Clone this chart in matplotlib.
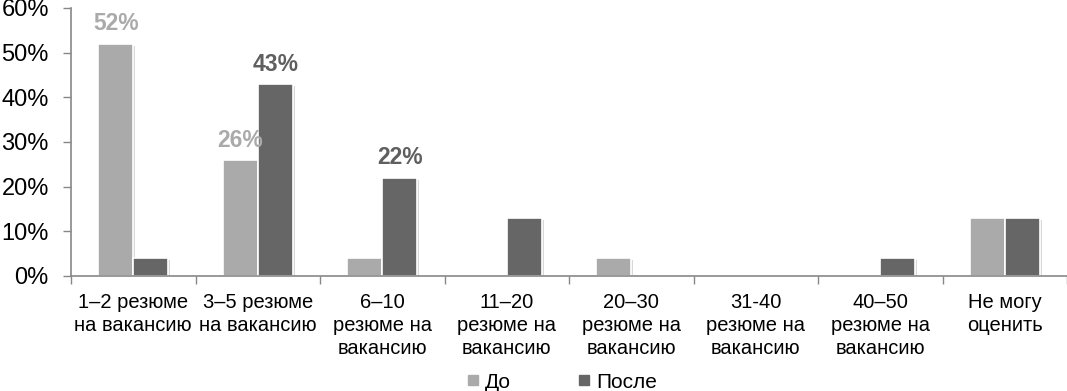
import matplotlib.pyplot as plt
import matplotlib.patheffects as pe
from matplotlib.lines import Line2D
import numpy as np

plt.rcParams['font.family'] = ['Liberation Sans', 'DejaVu Sans']

categories = ["1–2 резюме\nна вакансию", "3–5 резюме\nна вакансию", "6–10\nрезюме на\nвакансию",
              "11–20\nрезюме на\nвакансию", "20–30\nрезюме на\nвакансию", "31-40\nрезюме на\nвакансию",
              "40–50\nрезюме на\nвакансию", "Не могу\nоценить"]
do_vals = [52, 26, 4, 0, 4, 0, 0, 13]
posle_vals = [4, 43, 22, 13, 0, 0, 4, 13]
do_labels = ["52%", "26%", "", "", "", "", "", ""]
posle_labels = ["", "43%", "22%", "", "", "", "", ""]

c_do = "#aaaaaa"
c_posle = "#666666"
grey = "#888888"

fig = plt.figure(figsize=(10.67, 3.91), dpi=100)
ax = fig.add_axes([71/1067, 115/391, 1 - 71/1067, 268/391])

x = np.arange(len(categories))
w = 0.28
shadow = [pe.SimplePatchShadow(offset=(1.5, -1.5), shadow_rgbFace="#d8d8d8", alpha=1), pe.Normal()]
b1 = ax.bar(x - w/2, do_vals, w, color=c_do, edgecolor="white", linewidth=1.2, path_effects=shadow)
b2 = ax.bar(x + w/2, posle_vals, w, color=c_posle, edgecolor="white", linewidth=1.2, path_effects=shadow)

ax.bar_label(b1, labels=do_labels, padding=6, color=c_do, fontsize=16.5, fontweight="bold")
ax.bar_label(b2, labels=posle_labels, padding=6, color="#5f5f5f", fontsize=16.5, fontweight="bold")

ax.set_xlim(-0.5, len(categories) - 0.5)
ax.set_ylim(0, 60)
ax.set_yticks(range(0, 61, 10))
ax.set_yticklabels([f"{v}%" for v in range(0, 61, 10)], fontsize=17)
ax.tick_params(axis="y", length=6, color=grey, width=1, pad=10)

ax.set_xticks(x)
ax.set_xticklabels(categories, fontsize=14.5, linespacing=1.28)
ax.set_xticks(np.arange(-0.5, len(categories)), minor=True)
ax.tick_params(axis="x", which="major", length=0, pad=12)
ax.tick_params(axis="x", which="minor", length=6, color=grey, width=1)

for s in ["top", "right"]:
    ax.spines[s].set_visible(False)
for s in ["left", "bottom"]:
    ax.spines[s].set_color(grey)
    ax.spines[s].set_linewidth(1.2)

handles = [Line2D([], [], marker="s", linestyle="", color=c_do, markersize=7),
           Line2D([], [], marker="s", linestyle="", color=c_posle, markersize=7)]
fig.legend(handles, ["До", "После"], loc="center", bbox_to_anchor=(562/1067, 9/391), ncol=2,
           frameon=False, fontsize=15, handlelength=0.6, handletextpad=0.3, columnspacing=3.2)

fig.savefig("out.png", dpi=100)
